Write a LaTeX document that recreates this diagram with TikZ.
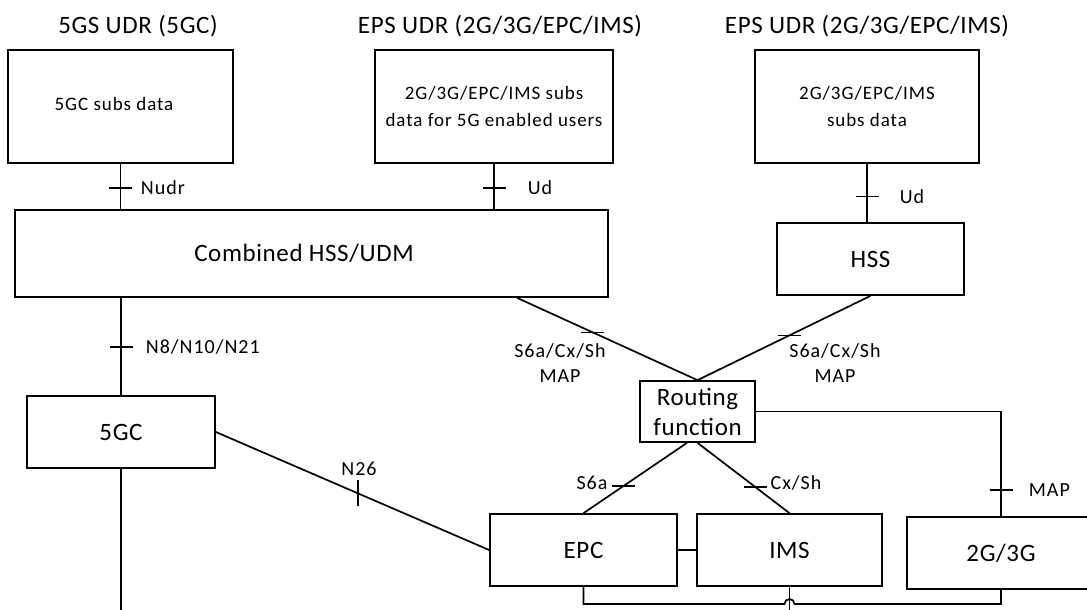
\documentclass[tikz,border=0pt]{standalone}
\usepackage{fontspec}
\setmainfont{Carlito}
\newfontfamily\bigf[LetterSpace=2.5]{Carlito}
\newfontfamily\smallf[LetterSpace=5]{Carlito}
\usetikzlibrary{calc}
\begin{document}
\begin{tikzpicture}[x=1pt,y=-1pt,line width=1.7pt,
  box/.style={draw,inner sep=0pt,font=\bigf\fontsize{25}{30}\selectfont,align=center},
  sbox/.style={draw,inner sep=0pt,font=\smallf\fontsize{19}{27}\selectfont,align=center},
  bigtxt/.style={inner sep=0pt,font=\bigf\fontsize{25}{30}\selectfont},
  btxt/.style={inner sep=0pt,font=\smallf\fontsize{19}{27}\selectfont,align=center},
  lbl/.style={inner sep=0pt,font=\smallf\fontsize{20}{25}\selectfont,align=center}]
\useasboundingbox (0,0) rectangle (1087,610);

% titles
\node[bigtxt] (tt1) at (138,26) {5GS UDR (5GC)};
\node[bigtxt] (tt2) at (500,26) {EPS UDR (2G/3G/EPC/IMS)};
\node[bigtxt] (tt3) at (867,26) {EPS UDR (2G/3G/EPC/IMS)};

% boxes
\node[sbox,minimum width=225,minimum height=113] (b1) at (120.5,106.5) {};
\node[btxt] (b1t) at (114,104) {5GC subs data};
\node[sbox,minimum width=238,minimum height=113] (b2) at (494,106.5) {2G/3G/EPC/IMS subs\\data for 5G enabled users};
\node[sbox,minimum width=224,minimum height=113] (b3) at (867,106.5) {2G/3G/EPC/IMS\\subs data};
\node[box,minimum width=593,minimum height=87] (comb) at (311.5,253.5) {};
\node[bigtxt] (combt) at (304,253) {Combined HSS/UDM};
\node[box,minimum width=187,minimum height=72] (hss) at (870.5,259) {HSS};
\node[box,minimum width=188,minimum height=72] (g5) at (121,432) {5GC};
\node[box,minimum width=115,minimum height=61] (rout) at (697.5,411.5) {Routing\\function};
\node[box,minimum width=187,minimum height=72] (epc) at (583.5,550) {EPC};
\node[box,minimum width=185,minimum height=72] (ims) at (789.5,550) {IMS};
\node[box,minimum width=188,minimum height=72] (g23) at (1001,553) {2G/3G};

% connectors with ticks
\draw (b1.south) -- (comb.north -| b1.south) coordinate[pos=0.53] (t1);
\draw ([xshift=-11.5]t1) -- ([xshift=11.5]t1);
\node[lbl,anchor=west] (lNudr) at (140,188) {Nudr};

\draw (b2.south) -- (comb.north -| b2.south) coordinate[pos=0.53] (t2);
\draw ([xshift=-11.5]t2) -- ([xshift=11.5]t2);
\node[lbl] (lUd1) at (540,188) {Ud};

\draw (b3.south) -- (hss.north -| b3.south) coordinate[pos=0.56] (t3);
\draw ([xshift=-11.5]t3) -- ([xshift=11.5]t3);
\node[lbl] (lUd2) at (912,197) {Ud};

\draw (comb.south -| g5.north) -- (g5.north) coordinate[pos=0.505] (t4);
\draw ([xshift=-11.5]t4) -- ([xshift=11.5]t4);
\node[lbl,anchor=west] (lN8) at (145,347) {N8/N10/N21};

\coordinate (g5end) at (121,610);
\draw (g5.south) -- (g5end);

\draw (g5.east) -- (epc.west) coordinate[pos=0.52] (t5);
\draw ([yshift=-13]t5) -- ([yshift=13]t5);
\node[lbl] (lN26) at (359,469) {N26};

\draw ([xshift=205.5]comb.south) -- (rout.north) coordinate[pos=0.42] (t6);
\draw ([xshift=-11.5]t6) -- ([xshift=11.5]t6);
\node[lbl] (lS1) at (560,363) {S6a/Cx/Sh\\MAP};

\draw (hss.south) -- (rout.north) coordinate[pos=0.47] (t7);
\draw ([xshift=-11.5]t7) -- ([xshift=11.5]t7);
\node[lbl] (lS2) at (835,363) {S6a/Cx/Sh\\MAP};

\draw ([xshift=-10.5]rout.south) -- (epc.north) coordinate[pos=0.61] (t8);
\draw ([xshift=-11.5]t8) -- ([xshift=11.5]t8);
\node[lbl] (lS6a) at (592,483) {S6a};

\draw (rout.south) -- (ims.north) coordinate[pos=0.625] (t9);
\draw ([xshift=-11.5]t9) -- ([xshift=11.5]t9);
\node[lbl] (lCx) at (796,483) {Cx/Sh};

\coordinate (mapc) at (g23.north |- rout.east);
\draw (rout.east) -- (mapc) -- (g23.north) coordinate[pos=0.75] (t10);
\draw ([xshift=-11.5]t10) -- ([xshift=11.5]t10);
\node[lbl,anchor=west] (lMAP) at (1028,490) {MAP};

\draw (epc.north east |- ims.west) -- (ims.west);

% bottom line with hop
\coordinate (hop) at (789.5,604);
\coordinate (bend) at (1001,604);
\draw (epc.south) |- ([xshift=-5]hop) arc[start angle=180,end angle=0,radius=5pt] -- (bend) -- (g23.south);
\coordinate (imsend) at (789.5,610);
\draw (ims.south) -- (imsend);
\end{tikzpicture}
\end{document}
